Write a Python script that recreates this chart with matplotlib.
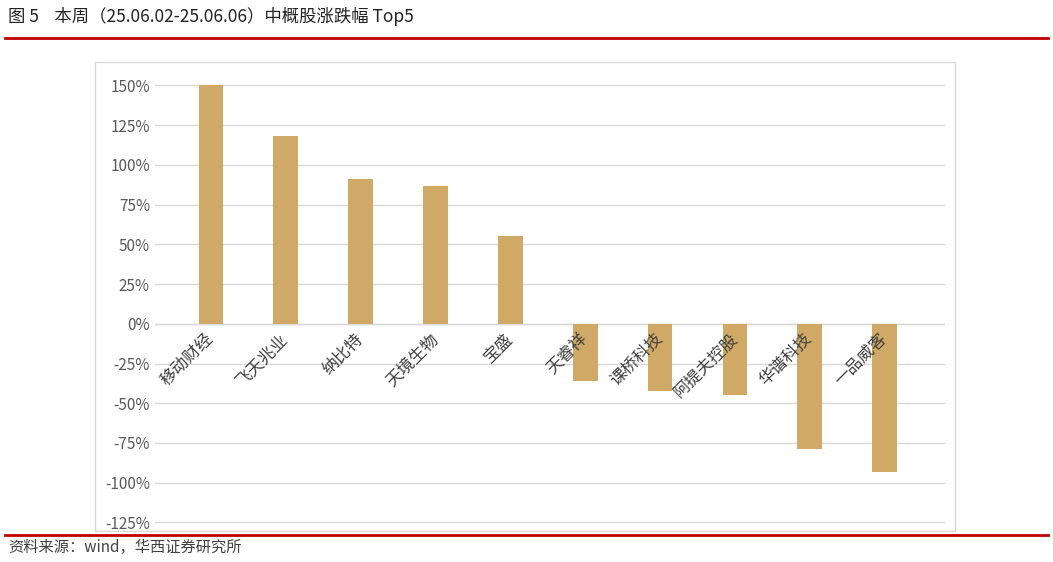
import matplotlib
matplotlib.use("Agg")
import matplotlib.pyplot as plt
from matplotlib.lines import Line2D
from matplotlib.patches import Rectangle

plt.rcParams['font.family'] = ['Noto Sans CJK SC', 'DejaVu Sans']

names = ["移动财经", "飞天兆业", "纳比特", "天境生物", "宝盛", "天睿祥", "课桥科技", "阿提夫控股", "华谱科技", "一品威客"]
values = [150, 118, 91, 87, 55, -36, -42, -45, -79, -93]
ticks = [150, 125, 100, 75, 50, 25, 0, -25, -50, -75, -100, -125]

fig = plt.figure(figsize=(10.53, 5.62), dpi=100)
ax = fig.add_axes([0.147, 0.062, 0.75, 0.80])
x = range(len(names))
ax.bar(x, values, width=0.33, color="#CFA965", zorder=3)
ax.set_ylim(-128, 155)
ax.set_xlim(-0.75, 9.8)
ax.set_yticks(ticks)
ax.set_yticklabels([f"{t}%" for t in ticks], fontsize=11, color="#595959")
ax.grid(axis='y', color="#D9D9D9", lw=1, zorder=0)
ax.axhline(0, color="#D9D9D9", lw=1, zorder=2)
ax.set_xticks([])
ax.tick_params(axis='y', length=0)
for s in ax.spines.values():
    s.set_visible(False)
for i, n in enumerate(names):
    ax.text(i - 0.08, -4, n, rotation=45, ha='right', va='top', rotation_mode='anchor',
            fontsize=12, color="#404040", zorder=4)

fig.patches.append(Rectangle((0.09, 0.055), 0.817, 0.835, transform=fig.transFigure,
                             fill=False, edgecolor="#D9D9D9", lw=1))
fig.text(0.008, 0.97, "图 5    本周（25.06.02-25.06.06）中概股涨跌幅 Top5", fontsize=12.5,
         color="#222222", va='center')
fig.lines.append(Line2D([0.005, 0.995], [0.932, 0.932], transform=fig.transFigure, color="#C00000", lw=2))
fig.lines.append(Line2D([0.005, 0.995], [0.048, 0.048], transform=fig.transFigure, color="#C00000", lw=2))
fig.text(0.008, 0.025, "资料来源：wind，华西证券研究所", fontsize=11, color="#404040", va='center')
fig.savefig("out.png", dpi=100)
